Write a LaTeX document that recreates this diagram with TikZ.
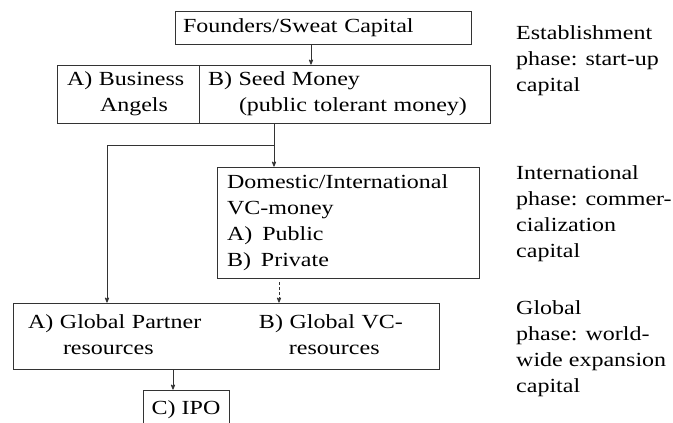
\documentclass[tikz,border=0pt]{standalone}
\usepackage{fontspec}
\setmainfont{Liberation Serif}[FakeStretch=1.2]
\usepackage{tikz}
\usetikzlibrary{arrows}
\tikzset{
  capnode/.style = {draw=black!80, line width=0.8pt, align=left, inner ysep=0pt,
    text=black, font=\fontsize{20}{26}\selectfont},
  cap_box/.style n args = {3}{capnode, minimum width=#1, minimum height=#2,
    text width=#1-2*#3, inner xsep=#3},
  phase_txt/.style = {align=left, inner sep=0pt, anchor=west, text=black,
    font=\fontsize{20}{26}\selectfont},% phase labels on the right
  arr/.style = {->, >=stealth', draw=black!80, line width=0.8pt}
}
\begin{document}
\begin{tikzpicture}[x=1pt,y=-1pt]
\useasboundingbox (0,0) rectangle (673,423);
\node [cap_box={296pt}{33pt}{8pt}] (founders) at (323,27.5) {Founders/Sweat Capital};
\node [cap_box={142pt}{58pt}{10pt}] (angels) at (128,94)
  {A) Business\\\hspace*{33pt}Angels};
\node [cap_box={291pt}{58pt}{9pt}] (seed) at (344.5,94)
  {B) Seed Money\\\hspace*{31pt}(public tolerant money)};
\node [cap_box={262pt}{111pt}{10pt}] (domestic) at (348,222.5)
  {Domestic/International\\VC-money\\A)\, Public\\B)\, Private};
\node [cap_box={426pt}{66pt}{15pt}] (global) at (226,336)
  {\begin{tabular}{@{}p{231pt}@{}l@{}}
   A) Global Partner & B) Global VC-\\
   \hspace*{35pt}resources & \hspace*{30pt}resources
   \end{tabular}};
\node [capnode, minimum width=86pt, minimum height=40pt, align=center] (ipo) at (186,410) {C) IPO};

\node [phase_txt] (est) at (516,61) {Establishment\\phase: start-up\\capital};
\node [phase_txt] (intl) at (516,214) {International\\phase: commer-\\cialization\\capital};
\node [phase_txt] (glob) at (516,348.5) {Global\\phase: world-\\wide expansion\\capital};

\coordinate (split) at (274,145);
\draw [arr] ([xshift=-12pt]founders.south) -- ([xshift=-12pt]founders.south |- seed.north);
\draw [arr, -] (split |- seed.south) -- (split);
\draw [arr] (split) -- (split |- domestic.north);
\draw [arr] (split) -| ([xshift=-119pt]global.north);
\draw [arr, dash pattern=on 3pt off 2pt] ([xshift=-69pt,yshift=-4pt]domestic.south)
  -- ([xshift=-69pt]domestic.south |- global.north);
\draw [arr] ([xshift=-13pt]ipo.north |- global.south) -- ([xshift=-13pt]ipo.north);
\end{tikzpicture}
\end{document}
